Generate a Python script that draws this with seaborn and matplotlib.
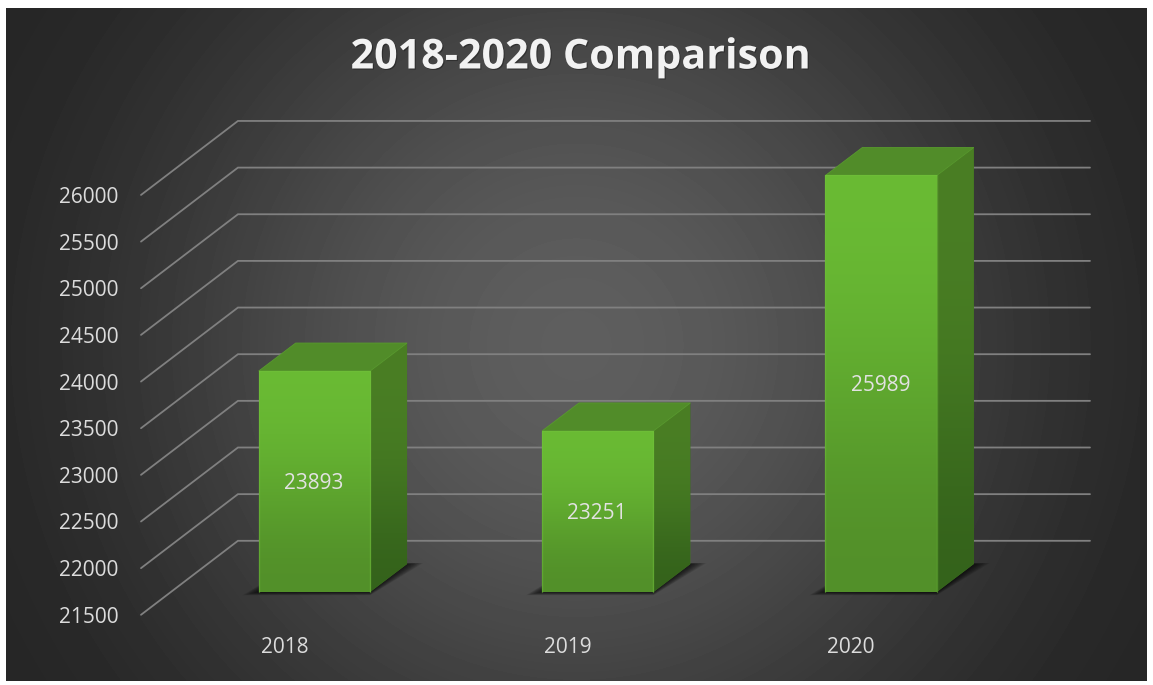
import numpy as np
import matplotlib
matplotlib.use("Agg")
import matplotlib.pyplot as plt
import matplotlib.patheffects as pe
import matplotlib.transforms as mtransforms
from matplotlib.patches import Polygon
import seaborn as sns

years = ["2018", "2019", "2020"]
totals = [23893, 23251, 25989]
y_ticks = [21500, 22000, 22500, 23000, 23500, 24000, 24500, 25000, 25500, 26000]

W, H = 1153, 685
PX_X = 283.5   # pixels per category
PX_Y = 0.0933  # pixels per unit

sns.set_theme(style="dark")
plt.rcParams["font.family"] = ["Open Sans", "DejaVu Sans"]

fig = plt.figure(figsize=(W / 100, H / 100), dpi=100, facecolor="white")


def px_axes(left, top, right, bottom, **kwargs):
    return fig.add_axes([left / W, 1 - bottom / H, (right - left) / W, (bottom - top) / H], **kwargs)


def gradient(ax, colors, extent, clip, zorder):
    # vertical colour ramp, top to bottom, clipped to a face
    img = ax.imshow(np.array(colors)[:, None, :], extent=extent, aspect="auto",
                    interpolation="bicubic", zorder=zorder)
    img.set_clip_path(clip)


def rgb(code):
    return matplotlib.colors.to_rgb(code)


# dark panel with radial glow
bg = px_axes(6, 8, 1147, 681)
xx, yy = np.meshgrid(np.arange(6, 1147), np.arange(8, 681))
rr = np.minimum(np.hypot(xx - 576, yy - 345), 680)
glow = 0x26 + (0x5e - 0x26) * (0.5 + 0.5 * np.cos(np.pi * rr / 680))
bg.imshow(glow, cmap="gray", vmin=0, vmax=255, aspect="auto")
bg.axis("off")

ax = px_axes(141, 100, 1090, 594.3)
ax.patch.set_alpha(0)
sns.barplot(x=years, y=totals, ax=ax, width=111.5 / PX_X, color="#5fa82f", saturation=1, zorder=5, linewidth=0)

x_left = (140.5 - 314) / PX_X
x_right = (1090 - 314) / PX_X
y_low = 21500
y_high = y_low + 494.3 / PX_Y

# depth of the wall and of the bars, in data units
wall_dx = 97 / PX_X
wall_dy = 53.5 / PX_Y
tick_dy = 20.5 / PX_Y
bar_dx = 37 / PX_X
bar_dy = 28 / PX_Y
floor = y_low + 2.3 / PX_Y

for v in y_ticks:
    ax.plot([x_left, x_left + wall_dx, x_right], [v - tick_dy, v + wall_dy, v + wall_dy],
            color="#808080", lw=1.3, clip_on=False, zorder=1, solid_joinstyle="miter")

for bar, total in zip(ax.containers[0], totals):
    bar.set_y(floor)
    bar.set_height(total - floor)
    x0 = bar.get_x()
    x1 = x0 + bar.get_width()

    # soft floor shadow
    for grow in np.arange(1.6, 17, 1.6):
        gx = grow / PX_X
        gy = 0.2 * grow / PX_Y
        ax.add_patch(Polygon([(x0 - gx, floor - gy), (x1, floor - gy),
                              (x1 + bar_dx + gx, floor + bar_dy + 0.3 * gy),
                              (x0 + bar_dx, floor + bar_dy + 0.3 * gy)],
                             closed=True, fc="black", ec="none", alpha=0.09, zorder=2, clip_on=False))

    side = Polygon([(x1, floor), (x1 + bar_dx, floor + bar_dy), (x1 + bar_dx, total + bar_dy), (x1, total)],
                   closed=True, fc="#3f7020", ec="none", zorder=3)
    ax.add_patch(side)
    gradient(ax, [rgb("#4a7e24"), rgb("#457a22"), rgb("#34621b")],
             (x1, x1 + bar_dx, floor, total + bar_dy), side, 3.5)

    top = Polygon([(x0, total), (x1, total), (x1 + bar_dx, total + bar_dy), (x0 + bar_dx, total + bar_dy)],
                  closed=True, fc="#518c29", ec="#589a2d", lw=0.6, zorder=4)
    ax.add_patch(top)

    gradient(ax, [rgb("#6abb34"), rgb("#60aa2f"), rgb("#528f29")],
             (x0, x1, floor, total), bar, 6)
    ax.plot([x0, x0, x1, x1], [floor, total, total, floor], color="#72c23c", lw=1.0, alpha=0.45, zorder=7)

labels = ax.bar_label(ax.containers[0], labels=[str(t) for t in totals], label_type="center",
                      fontsize=15, color="#e2e2e2")
for label in labels:
    label.set_zorder(9)
    label.xyann = (-0.5, -1.6)

ax.set_xlim(x_left, x_right)
ax.set_ylim(y_low, y_high)
ax.set_yticks(y_ticks)
ax.set_xlabel("")
ax.set_ylabel("")
ax.grid(False)
for spine in ax.spines.values():
    spine.set_visible(False)
ax.tick_params(axis="y", length=0, pad=16, labelsize=15, labelcolor="#dcdcdc")
ax.tick_params(axis="x", length=0, pad=31, labelsize=15, labelcolor="#dcdcdc")

# the axis labels sit in front of the floor, not under the bars
shift_y = mtransforms.ScaledTranslation(0, -tick_dy * PX_Y / 100, fig.dpi_scale_trans)
shift_x = mtransforms.ScaledTranslation(-30 / 100, 0, fig.dpi_scale_trans)
for label in ax.get_yticklabels():
    label.set_transform(label.get_transform() + shift_y)
for label in ax.get_xticklabels():
    label.set_transform(label.get_transform() + shift_x)

title = fig.text(581 / W, 1 - 58 / H, "2018-2020 Comparison", ha="center", va="center",
                 fontsize=29.7, fontweight="bold", color="#f2f2f2")
title.set_path_effects([pe.withSimplePatchShadow(offset=(0.8, -0.8), shadow_rgbFace="black", alpha=0.3)])

fig.savefig("out.png", dpi=100)
